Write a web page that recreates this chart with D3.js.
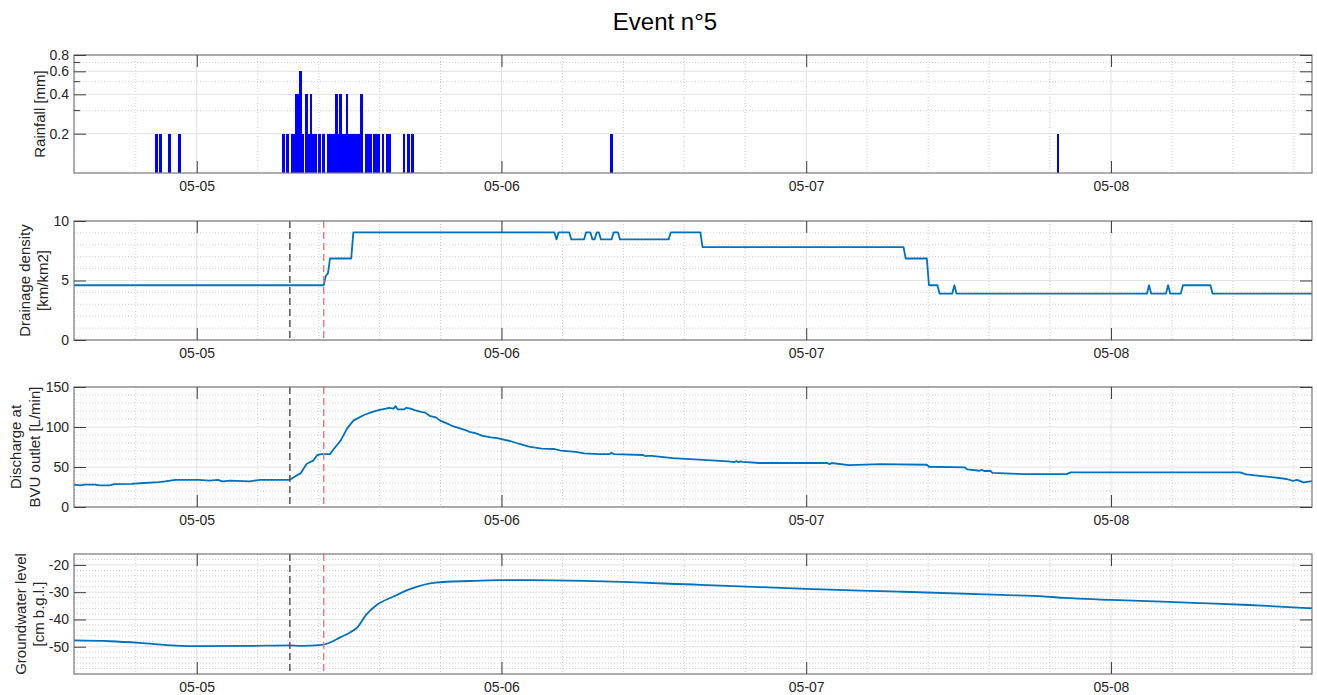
<!DOCTYPE html>
<html><head><meta charset="utf-8">
<script src="https://cdn.jsdelivr.net/npm/d3@7"></script>
<style>
body{margin:0;background:#fff}
svg{display:block}
text{font-family:"Liberation Sans",Arial,Helvetica,sans-serif;fill:#262626}
</style>
</head><body><svg id="c" width="1317" height="695"></svg>
<script>
// ---------------- DATA ----------------
const chartTitle = "Event n°5";
const timeStart = "05-04 14:20", timeEnd = "05-08 15:50";
const xTickTimes = ["05-05 00:00","05-06 00:00","05-07 00:00","05-08 00:00"];
const xTickLabels = ["05-05","05-06","05-07","05-08"];
const markerStart = "05-05 07:20";   // dark dashed line
const markerPeak  = "05-05 10:00";   // red dashed line

// Rainfall, 10-min totals [mm]
const rainTimes = ["05-04 20:50","05-04 21:10","05-04 21:50","05-04 22:40",
  "05-05 06:50","05-05 07:10","05-05 07:30","05-05 07:40","05-05 07:50","05-05 08:00","05-05 08:10","05-05 08:20",
  "05-05 08:40","05-05 08:50","05-05 09:00","05-05 09:10","05-05 09:20","05-05 09:40","05-05 10:00",
  "05-05 10:20","05-05 10:30","05-05 10:40","05-05 10:50","05-05 11:00","05-05 11:10","05-05 11:20","05-05 11:30",
  "05-05 11:40","05-05 11:50","05-05 12:00","05-05 12:10","05-05 12:20","05-05 12:30","05-05 12:40","05-05 12:50",
  "05-05 13:00","05-05 13:20","05-05 13:30","05-05 13:40","05-05 14:00","05-05 14:10","05-05 14:20","05-05 14:40",
  "05-05 15:00","05-05 15:10","05-05 16:20","05-05 16:40","05-05 17:00","05-06 08:40","05-07 19:50"];
const rainValues = [0.2,0.2,0.2,0.2,
  0.2,0.2,0.2,0.2,0.4,0.4,0.6,0.2,
  0.4,0.2,0.4,0.2,0.2,0.2,0.2,
  0.2,0.2,0.2,0.2,0.4,0.2,0.4,0.2,
  0.2,0.4,0.2,0.2,0.2,0.2,0.2,0.2,
  0.4,0.2,0.2,0.2,0.2,0.2,0.2,0.2,
  0.2,0.2,0.2,0.2,0.2,0.2,0.2];
const rainTicks = [0.2,0.4,0.6,0.8];
const rainMinor = [0.3,0.5,0.7];

// Drainage density [km/km2]
const drainTimes = ["05-04 14:20","05-05 10:00","05-05 10:10","05-05 10:20","05-05 10:30","05-05 12:10","05-05 12:20",
  "05-06 04:10","05-06 04:20","05-06 04:30","05-06 05:20","05-06 05:30","05-06 06:30","05-06 06:40","05-06 07:00",
  "05-06 07:10","05-06 07:20","05-06 07:30","05-06 07:40","05-06 07:50","05-06 08:40","05-06 08:50","05-06 09:10",
  "05-06 09:20","05-06 13:10","05-06 13:20","05-06 15:40","05-06 15:50","05-07 07:40","05-07 07:50","05-07 09:30",
  "05-07 09:40","05-07 10:20","05-07 10:30","05-07 11:30","05-07 11:40","05-07 11:50","05-08 02:50","05-08 03:00",
  "05-08 03:10","05-08 04:20","05-08 04:30","05-08 04:40","05-08 05:30","05-08 05:40","05-08 07:50","05-08 08:00",
  "05-08 15:50"];
const drainValues = [4.6,4.6,5.4,5.6,6.85,6.85,9.05,
  9.05,8.45,9.05,9.05,8.45,8.45,9.05,9.05,
  8.45,8.45,9.05,9.05,8.45,8.45,9.05,9.05,
  8.45,8.45,9.05,9.05,7.8,7.8,6.85,6.85,
  4.6,4.6,3.9,3.9,4.6,3.9,3.9,4.6,
  3.9,3.9,4.6,3.9,3.9,4.6,4.6,3.9,
  3.9];
const drainTicks = [0,5,10];

// Discharge at BVU outlet [L/min]
const qTimes = ["05-04 14:20","05-04 14:50","05-04 15:10","05-04 16:00","05-04 16:20","05-04 17:10","05-04 17:30",
  "05-04 18:50","05-04 19:50","05-04 21:00","05-04 21:30","05-04 22:20","05-05 00:10","05-05 01:00","05-05 01:40",
  "05-05 02:00","05-05 02:40","05-05 04:10","05-05 05:00","05-05 07:20","05-05 07:50","05-05 08:10","05-05 08:40",
  "05-05 09:10","05-05 09:30","05-05 09:50","05-05 10:30","05-05 10:40","05-05 11:20","05-05 11:50","05-05 12:20",
  "05-05 13:10","05-05 13:50","05-05 14:20","05-05 15:10","05-05 15:30","05-05 15:40","05-05 15:50","05-05 16:20",
  "05-05 16:30","05-05 16:50","05-05 17:10","05-05 17:40","05-05 18:00","05-05 18:20","05-05 18:50","05-05 19:10",
  "05-05 19:50","05-05 20:10","05-05 20:40","05-05 21:10","05-05 21:30","05-05 22:00","05-05 22:30","05-05 23:10",
  "05-05 23:40","05-06 00:40","05-06 01:10","05-06 01:30","05-06 02:10","05-06 03:10","05-06 04:10","05-06 04:40",
  "05-06 05:50","05-06 06:30","05-06 07:40","05-06 08:30","05-06 08:40","05-06 08:50","05-06 11:10","05-06 11:20",
  "05-06 11:30","05-06 11:50","05-06 13:30","05-06 16:10","05-06 17:50","05-06 18:20","05-06 18:30","05-06 18:40",
  "05-06 18:50","05-06 19:00","05-06 20:20","05-07 01:40","05-07 01:50","05-07 02:00","05-07 03:20","05-07 05:50",
  "05-07 09:30","05-07 09:40","05-07 12:30","05-07 12:40","05-07 13:40","05-07 13:50","05-07 14:00","05-07 14:30",
  "05-07 14:40","05-07 17:20","05-07 20:30","05-07 20:50","05-08 10:10","05-08 10:40","05-08 11:40","05-08 12:50",
  "05-08 13:50","05-08 14:20","05-08 14:40","05-08 15:10","05-08 15:50"];
const qValues = [28,27,28,28,27,27,28.5,
  29,30,31,32,34,34,33,34,
  32,33,32,34,34,39,42,54,
  58,65,66,66,70,83,98,108,
  115,119,121,124,123,126,122,122,
  124,123,121,119,118,114,112,108,
  103.5,101,98.5,96,94,92,89,87,
  86,82.5,80,78.5,75.5,73,72.5,70.5,
  69,67,66,66,68,66,65,63.5,
  64,64,61,58.7,57,56,57.5,56,
  57,56.5,55,55,53.5,55,52.4,53.6,
  52.8,50.3,49.5,47,45.3,46.5,45,45.3,
  42.7,41,41,43.2,43.2,40.7,39,37,
  35,32.7,34,30.7,32.3];
const qTicks = [0,50,100,150];

// Groundwater level [cm b.g.l.]
const gwTimes = ["05-04 14:20","05-04 17:10","05-04 19:30","05-04 22:20","05-05 00:10","05-05 04:10","05-05 07:20",
  "05-05 08:10","05-05 08:50","05-05 10:00","05-05 11:20","05-05 12:10","05-05 12:40","05-05 13:20","05-05 14:10",
  "05-05 15:30","05-05 16:50","05-05 18:50","05-05 21:30","05-05 23:50","05-06 02:10","05-06 15:40","05-07 00:00",
  "05-07 07:20","05-07 15:20","05-07 18:50","05-07 20:20","05-08 00:00","05-08 07:00","05-08 10:50","05-08 15:50"];
const gwValues = [-47.7,-48.0,-48.6,-49.6,-49.8,-49.7,-49.5,
  -49.7,-49.6,-49.2,-46.5,-44.5,-42.8,-38.3,-34.7,
  -31.6,-28.8,-26.5,-25.9,-25.6,-25.6,-27.3,-28.8,
  -29.8,-31.0,-31.6,-32.1,-32.8,-34.0,-34.7,-35.9];
const gwTicks = [-50,-40,-30,-20];

// ---------------- DRAWING ----------------
const parse = d3.timeParse("%m-%d %H:%M");
const svg = d3.select("#c");
const L = 74, R = 1312;
const x = d3.scaleTime().domain([parse(timeStart), parse(timeEnd)]).range([L, R]);

const MAJOR = "#e2e2e2", MINOR = "#cdcdcd", BOX = "#7a7a7a", TICK = "#3c3c3c";
const LINE = "#0072BD";

svg.append("text").attr("x", 665).attr("y", 30).attr("text-anchor", "middle")
  .style("font-size", "24px").style("fill", "#000").text(chartTitle);

// minor x grid every 1/5 day
const day = 864e5;
const t0 = parse(xTickTimes[0]).getTime();
const xMinor = [];
for (let k = -5; k < 25; k++) {
  const t = new Date(t0 + k * day / 5);
  if (t > x.domain()[0] && t < x.domain()[1] && k % 5 !== 0) xMinor.push(t);
}
const xMajor = xTickTimes.map(parse);

function panel(cfg) {
  const g = svg.append("g");
  const y = cfg.y;
  const top = cfg.top, bot = cfg.bottom;
  g.selectAll(null).data(xMinor).enter().append("line")
    .attr("x1", d => x(d)).attr("x2", d => x(d)).attr("y1", top).attr("y2", bot)
    .attr("stroke", MINOR).attr("stroke-dasharray", "1,2");
  g.selectAll(null).data(cfg.yMinor).enter().append("line")
    .attr("x1", L).attr("x2", R).attr("y1", d => y(d)).attr("y2", d => y(d))
    .attr("stroke", MINOR).attr("stroke-dasharray", "1,2");
  g.selectAll(null).data(xMajor).enter().append("line")
    .attr("x1", d => x(d)).attr("x2", d => x(d)).attr("y1", top).attr("y2", bot)
    .attr("stroke", MAJOR);
  g.selectAll(null).data(cfg.yTicks).enter().append("line")
    .attr("x1", L).attr("x2", R).attr("y1", d => y(d)).attr("y2", d => y(d))
    .attr("stroke", MAJOR);
  cfg.draw(g, y);
  g.append("rect").attr("x", L).attr("y", top).attr("width", R - L).attr("height", bot - top)
    .attr("fill", "none").attr("stroke", BOX).attr("stroke-width", 1.2);
  const tl = 12;
  const axB = d3.axisBottom(x).tickValues(xMajor).tickSize(-tl).tickFormat((d, i) => xTickLabels[i]).tickPadding(8);
  const gb = g.append("g").attr("transform", `translate(0,${bot})`).call(axB);
  const axT = d3.axisTop(x).tickValues(xMajor).tickSize(-tl).tickFormat("");
  const gt = g.append("g").attr("transform", `translate(0,${top})`).call(axT);
  const axL = d3.axisLeft(y).tickValues(cfg.yTicks).tickSize(-tl).tickPadding(5).tickFormat(cfg.fmt || (d => d));
  const gl = g.append("g").attr("transform", `translate(${L},0)`).call(axL);
  const axR = d3.axisRight(y).tickValues(cfg.yTicks).tickSize(-tl).tickFormat("");
  const gr = g.append("g").attr("transform", `translate(${R},0)`).call(axR);
  [gb, gt, gl, gr].forEach(a => {
    a.select(".domain").remove();
    a.selectAll(".tick line").attr("stroke", TICK);
    a.selectAll("text").style("font-size", "14px").attr("fill", "#262626")
      .style("font-family", '"Liberation Sans",Arial,sans-serif');
  });
  if (cfg.minorTicks) {
    cfg.minorTicks.forEach(v => {
      g.append("line").attr("x1", L).attr("x2", L + 6).attr("y1", y(v)).attr("y2", y(v)).attr("stroke", TICK);
      g.append("line").attr("x1", R).attr("x2", R - 6).attr("y1", y(v)).attr("y2", y(v)).attr("stroke", TICK);
    });
  }
  const cy = (top + bot) / 2;
  cfg.label.forEach((s, i) => {
    svg.append("text").attr("transform", `translate(${cfg.labelX[i]},${cy}) rotate(-90)`)
      .attr("text-anchor", "middle").style("font-size", "15px").text(s);
  });
}

function markers(g, y) {
  [[markerStart, "#555555"], [markerPeak, "#e27f80"]].forEach(([t, c]) => {
    g.append("line").attr("x1", x(parse(t))).attr("x2", x(parse(t)))
      .attr("y1", y.range()[1]).attr("y2", y.range()[0])
      .attr("stroke", c).attr("stroke-width", 1.5).attr("stroke-dasharray", "7,4");
  });
}

// Rainfall
const yRain = d3.scaleLog().domain([0.1, 0.8]).range([173, 55]);
panel({
  top: 55, bottom: 173, y: yRain, yTicks: rainTicks, yMinor: rainMinor, minorTicks: rainMinor,
  fmt: d => d3.format(".1f")(d),
  label: ["Rainfall [mm]"], labelX: [45],
  draw: (g, y) => {
    const slot = x(parse("05-05 00:10")) - x(parse("05-05 00:00"));
    g.selectAll(null).data(rainTimes.map((t, i) => ({t: parse(t), v: rainValues[i]}))).enter().append("rect")
      .attr("x", d => x(d.t) - slot / 2 - 0.3).attr("width", slot + 0.6)
      .attr("y", d => y(d.v)).attr("height", d => y(0.1) - y(d.v))
      .attr("fill", "#0000ff").attr("shape-rendering", "crispEdges");
  }
});

function linePanel(top, bottom, dom, ticks, minorStep, times, vals, label, labelX, curve) {
  const y = d3.scaleLinear().domain(dom).range([bottom, top]);
  panel({
    top, bottom, y, yTicks: ticks, yMinor: d3.range(dom[0], dom[1] + 1e-9, minorStep).filter(v => !ticks.includes(v)),
    label, labelX,
    draw: (g, y) => {
      const data = times.map((t, i) => [x(parse(t)), y(vals[i])]);
      g.append("path").attr("d", d3.line().curve(curve)(data)).attr("fill", "none")
        .attr("stroke", LINE).attr("stroke-width", 1.8).attr("stroke-linejoin", "round");
      markers(g, y);
    }
  });
}
linePanel(221, 340, [0, 10], drainTicks, 1, drainTimes, drainValues, ["Drainage density", "[km/km2]"], [30, 48], d3.curveLinear);
linePanel(387, 507, [0, 150], qTicks, 10, qTimes, qValues, ["Discharge at", "BVU outlet [L/min]"], [21, 40], d3.curveLinear);
linePanel(554, 674, [-60, -16], gwTicks, 2, gwTimes, gwValues, ["Groundwater level", "[cm b.g.l.]"], [26, 44], d3.curveMonotoneX);
</script>
</body></html>
